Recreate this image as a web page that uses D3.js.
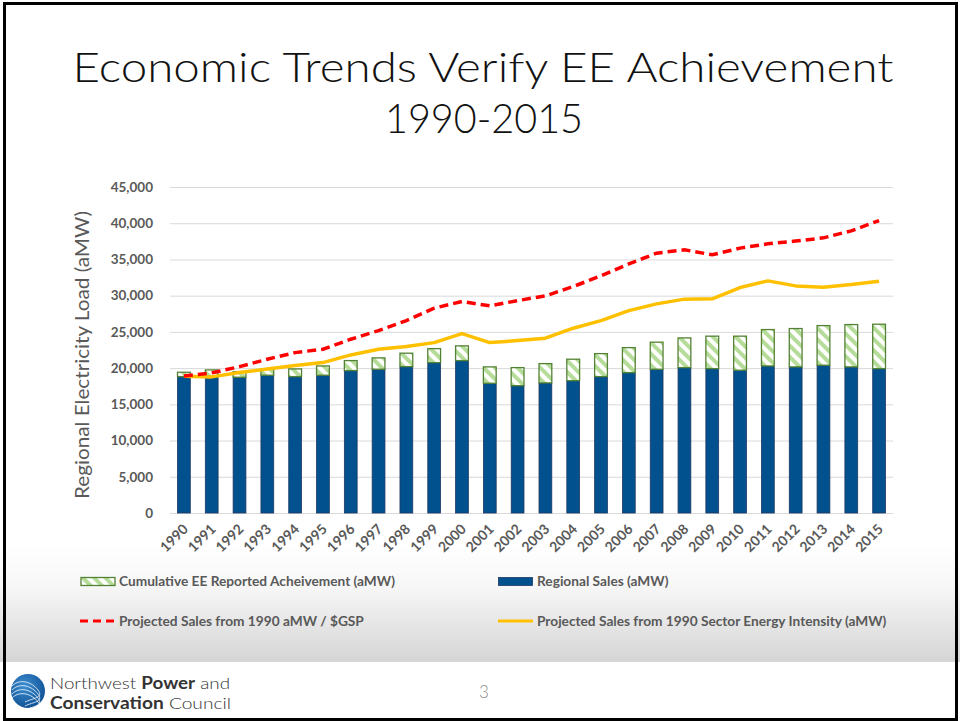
<!DOCTYPE html>
<html>
<head>
<meta charset="utf-8">
<script src="https://d3js.org/d3.v7.min.js"></script>
<style>
  body { margin: 0; background: #fff; }
  svg { display: block; }
</style>
</head>
<body>
<div id="chart"></div>
<script>
// values
var years = ["1990", "1991", "1992", "1993", "1994", "1995", "1996", "1997", "1998", "1999", "2000", "2001", "2002",
  "2003", "2004", "2005", "2006", "2007", "2008", "2009", "2010", "2011", "2012", "2013", "2014", "2015"];
var regionalSales = [18830, 18850, 18740, 19020, 18830, 19020, 19660, 19850, 20210, 20760, 21040, 17910, 17580,
  17960, 18270, 18830, 19380, 19850, 20070, 19930, 19710, 20300, 20170, 20400, 20170, 19930];
var cumulativeEE = [600, 900, 780, 880, 1060, 1280, 1380, 1560, 1850, 1930, 2030, 2260, 2490,
  2660, 2960, 3170, 3450, 3730, 4100, 4480, 4700, 5020, 5290, 5470, 5840, 6130];
var projectedGSP = [18920, 19340, 20200, 21230, 22140, 22610, 23990, 25180, 26560, 28270, 29190, 28590, 29320,
  29970, 31260, 32740, 34390, 35870, 36330, 35640, 36560, 37160, 37530, 37980, 38950, 40370];
var projectedIntensity = [18880, 18790, 19380, 19890, 20350, 20760, 21820, 22610, 22970, 23520, 24770, 23520, 23800,
  24130, 25510, 26560, 27940, 28870, 29520, 29560, 31120, 32040, 31350, 31170, 31530, 32000];
var yTicks = [0, 5000, 10000, 15000, 20000, 25000, 30000, 35000, 40000, 45000];

var W = 960, H = 721;
var dim = { left: 170, right: 893, top: 187, bottom: 513 };
var labelFont = "Lato, 'Open Sans', sans-serif";
var gray = "#595959";

var svg = d3.select("#chart").append("svg").attr("width", W).attr("height", H);
var defs = svg.append("defs");

// slide background: white with grey fade behind the legend
var grad = defs.append("linearGradient").attr("id", "fade").attr("x1", 0).attr("y1", 0).attr("x2", 0).attr("y2", 1);
grad.append("stop").attr("offset", "0%").attr("stop-color", "#ffffff");
grad.append("stop").attr("offset", "35%").attr("stop-color", "#f7f7f7");
grad.append("stop").attr("offset", "100%").attr("stop-color", "#d5d5d5");
svg.append("rect").attr("width", W).attr("height", H).attr("fill", "#fff");
svg.append("rect").attr("x", 0).attr("y", 545).attr("width", W).attr("height", 117).attr("fill", "url(#fade)");

// hatch for the EE segment
var hatch = defs.append("pattern").attr("id", "hatch").attr("patternUnits", "userSpaceOnUse")
  .attr("width", 8).attr("height", 8).attr("patternTransform", "rotate(-45)");
hatch.append("rect").attr("width", 8).attr("height", 8).attr("fill", "#fff");
hatch.append("rect").attr("width", 4).attr("height", 8).attr("fill", "#b5dc98");

// title
var title = svg.append("text").attr("text-anchor", "middle")
  .style("font-family", labelFont).style("font-weight", 300).style("font-size", "42px").attr("fill", "#111");
title.append("tspan").attr("x", 483).attr("y", 82).attr("textLength", 821).attr("lengthAdjust", "spacingAndGlyphs")
  .text("Economic Trends Verify EE Achievement");
title.append("tspan").attr("x", 484).attr("y", 133).attr("textLength", 198).attr("lengthAdjust", "spacingAndGlyphs")
  .text("1990-2015");

// scales
var x = d3.scaleBand().domain(years).range([dim.left, dim.right]).paddingInner(0.54).paddingOuter(0.27);
var y = d3.scaleLinear().domain([0, 45000]).range([dim.bottom, dim.top]);

// gridlines + y axis
var yAxis = svg.append("g").attr("transform", "translate(" + dim.left + ",0)")
  .call(d3.axisLeft(y).tickValues(yTicks).tickSize(-(dim.right - dim.left)).tickPadding(17).tickFormat(d3.format(",")));
yAxis.select(".domain").remove();
yAxis.selectAll(".tick line").attr("stroke", "#d9d9d9").attr("stroke-width", 1);
yAxis.selectAll(".tick text").attr("fill", gray)
  .style("font-family", labelFont).style("font-weight", 700).style("font-size", "13.5px");

// x axis labels
var xAxis = svg.append("g").attr("transform", "translate(0," + dim.bottom + ")")
  .call(d3.axisBottom(x).tickSize(0).tickPadding(0));
xAxis.select(".domain").remove();
xAxis.selectAll(".tick text").attr("fill", gray)
  .style("font-family", labelFont).style("font-weight", 700).style("font-size", "14px")
  .attr("text-anchor", "end").attr("dy", 0).attr("y", 0)
  .attr("transform", "translate(5,17) rotate(-45)");

// bars
var bars = svg.append("g");
bars.selectAll(".sales").data(years).enter().append("rect")
  .attr("x", function (d) { return x(d); })
  .attr("width", x.bandwidth())
  .attr("y", function (d, i) { return y(regionalSales[i]); })
  .attr("height", function (d, i) { return y(0) - y(regionalSales[i]); })
  .attr("fill", "#00518e").attr("stroke", "#1f3864").attr("stroke-width", 0.8);
bars.selectAll(".ee").data(years).enter().append("rect")
  .attr("x", function (d) { return x(d); })
  .attr("width", x.bandwidth())
  .attr("y", function (d, i) { return y(regionalSales[i] + cumulativeEE[i]); })
  .attr("height", function (d, i) { return y(regionalSales[i]) - y(regionalSales[i] + cumulativeEE[i]); })
  .attr("fill", "url(#hatch)").attr("stroke", "#548235").attr("stroke-width", 1.3);

// lines
var line = function (vals) {
  return d3.line()
    .x(function (d, i) { return x(years[i]) + x.bandwidth() / 2; })
    .y(function (d) { return y(d); })(vals);
};
svg.append("path").attr("d", line(projectedIntensity)).attr("fill", "none")
  .attr("stroke", "#ffc000").attr("stroke-width", 3.5).attr("stroke-linejoin", "round");
svg.append("path").attr("d", line(projectedGSP)).attr("fill", "none")
  .attr("stroke", "#ff0000").attr("stroke-width", 3.5).attr("stroke-dasharray", "9,5");

// y axis title
svg.append("text").attr("transform", "translate(89,355) rotate(-90)").attr("text-anchor", "middle")
  .attr("fill", gray).style("font-family", labelFont).style("font-size", "18.5px")
  .attr("textLength", 288).attr("lengthAdjust", "spacingAndGlyphs")
  .text("Regional Electricity Load (aMW)");

// legend
var leg = svg.append("g").style("font-family", labelFont).style("font-weight", 700).style("font-size", "13.7px");
leg.append("rect").attr("x", 81).attr("y", 577.5).attr("width", 34).attr("height", 8)
  .attr("fill", "url(#hatch)").attr("stroke", "#548235").attr("stroke-width", 1.3);
leg.append("text").attr("x", 119).attr("y", 586).attr("fill", gray).text("Cumulative EE Reported Acheivement (aMW)");
leg.append("rect").attr("x", 498.5).attr("y", 577.5).attr("width", 34).attr("height", 8)
  .attr("fill", "#00518e").attr("stroke", "#1f3864").attr("stroke-width", 0.8);
leg.append("text").attr("x", 537).attr("y", 586).attr("fill", gray).text("Regional Sales (aMW)");
leg.append("line").attr("x1", 80).attr("x2", 114).attr("y1", 621).attr("y2", 621)
  .attr("stroke", "#ff0000").attr("stroke-width", 3).attr("stroke-dasharray", "8,5");
leg.append("text").attr("x", 119).attr("y", 626).attr("fill", gray).text("Projected Sales from 1990 aMW / $GSP");
leg.append("line").attr("x1", 498).attr("x2", 533).attr("y1", 621).attr("y2", 621)
  .attr("stroke", "#ffc000").attr("stroke-width", 3);
leg.append("text").attr("x", 537).attr("y", 626).attr("fill", gray).text("Projected Sales from 1990 Sector Energy Intensity (aMW)");

// footer
svg.append("text").attr("x", 484).attr("y", 698).attr("text-anchor", "middle").attr("fill", "#8c8c8c")
  .style("font-family", labelFont).style("font-weight", 300).style("font-size", "17px").text("3");

var logoGrad = defs.append("radialGradient").attr("id", "logoGrad").attr("cx", "40%").attr("cy", "35%").attr("r", "70%");
logoGrad.append("stop").attr("offset", "0%").attr("stop-color", "#3d8fd1");
logoGrad.append("stop").attr("offset", "100%").attr("stop-color", "#0d4e92");
var logo = svg.append("g");
logo.append("circle").attr("cx", 28).attr("cy", 691).attr("r", 17).attr("fill", "url(#logoGrad)");
[680, 684, 688, 692].forEach(function (p) {
  logo.append("path")
    .attr("d", "M12," + (p + 6) + " C20," + (p - 2) + " 32," + (p + 2) + " 38," + (p + 10) + " S33," + (p + 18) + " 25," + (p + 22))
    .attr("fill", "none").attr("stroke", "#fff").attr("stroke-width", 0.9).attr("opacity", 0.85);
});
var org = svg.append("g").style("font-family", labelFont).style("font-size", "16.5px").attr("fill", "#333");
var l1 = org.append("text").attr("x", 50).attr("y", 689).attr("textLength", 180).attr("lengthAdjust", "spacingAndGlyphs");
l1.append("tspan").style("font-weight", 300).text("Northwest ");
l1.append("tspan").style("font-weight", 700).text("Power");
l1.append("tspan").style("font-weight", 300).text(" and");
var l2 = org.append("text").attr("x", 50).attr("y", 709).attr("textLength", 181).attr("lengthAdjust", "spacingAndGlyphs");
l2.append("tspan").style("font-weight", 700).text("Conservation");
l2.append("tspan").style("font-weight", 300).text(" Council");

// slide frame
svg.append("rect").attr("x", 4.5).attr("y", 3.5).attr("width", 952).attr("height", 716)
  .attr("fill", "none").attr("stroke", "#000").attr("stroke-width", 3);
</script>
</body>
</html>
